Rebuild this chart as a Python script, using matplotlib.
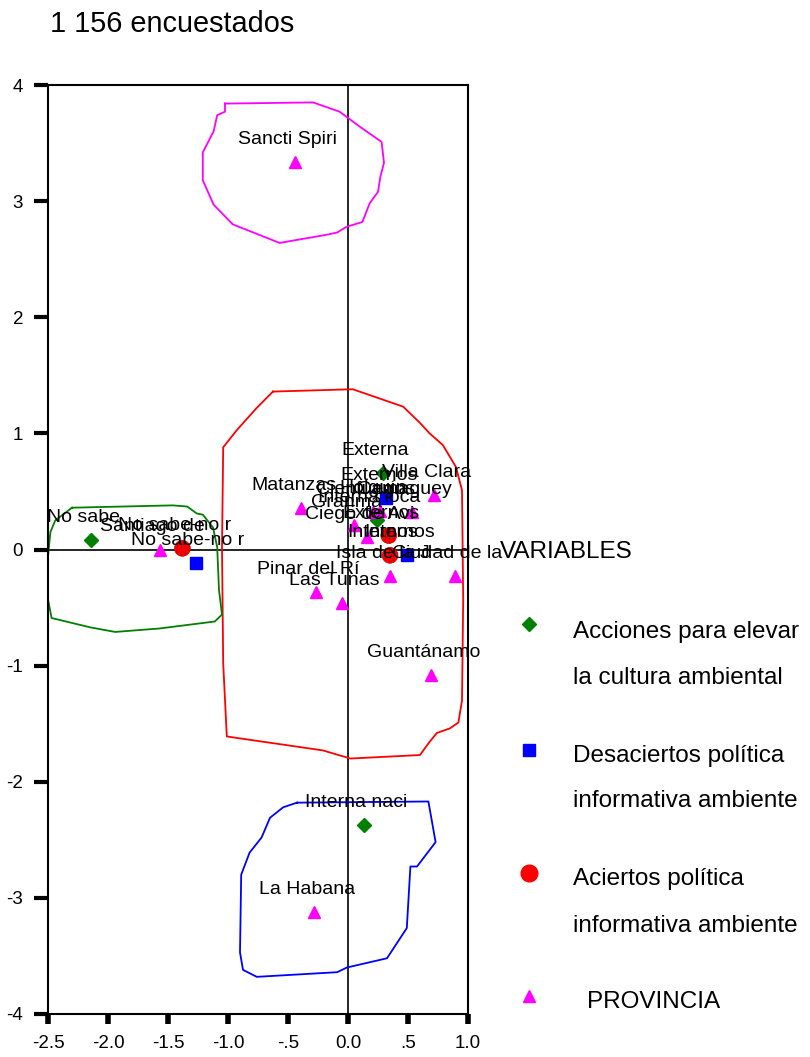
import matplotlib
matplotlib.use("Agg")
import matplotlib.pyplot as plt

plt.rcParams['font.family'] = ['Liberation Sans', 'DejaVu Sans']
plt.rcParams['axes.unicode_minus'] = False

# category points: (label, x, y)
acciones_labels = ['Externa', 'Interna loca', 'Interna naci', 'No sabe']
acciones_x = [0.29, 0.24, 0.13, -2.14]
acciones_y = [0.66, 0.25, -2.37, 0.08]

desaciertos_labels = ['Externos', 'Internos', 'No sabe-no r']
desaciertos_x = [0.32, 0.49, -1.27]
desaciertos_y = [0.44, -0.05, -0.12]

aciertos_labels = ['Externos', 'Internos', 'No sabe-no r']
aciertos_x = [0.34, 0.35, -1.38]
aciertos_y = [0.12, -0.05, 0.01]

provincia_labels = ['Pinar del Rí', 'La Habana', 'Ciudad de la', 'Matanzas', 'Villa Clara',
                    'Cienfuegos', 'Sancti Spiri', 'Ciego de Avi', 'Camaguey', 'Las Tunas',
                    'Holguín', 'Granma', 'Santiago de', 'Guantánamo', 'Isla de la J']
provincia_x = [-0.27, -0.28, 0.89, -0.39, 0.72, 0.21, -0.44, 0.16, 0.53, -0.05,
               0.27, 0.05, -1.57, 0.69, 0.35]
provincia_y = [-0.37, -3.12, -0.23, 0.36, 0.47, 0.32, 3.34, 0.11, 0.32, -0.46,
               0.33, 0.21, 0.00, -1.08, -0.23]

# hand drawn group outlines
outline_magenta_x = [-1.025, -0.29, -0.07, 0.10, 0.28, 0.30, 0.27, 0.25, 0.18, 0.12, -0.01,
                     -0.09, -0.18, -0.57, -0.96, -1.12, -1.21, -1.21, -1.12, -1.09, -1.025, -1.025]
outline_magenta_y = [3.84, 3.85, 3.77, 3.64, 3.51, 3.33, 3.21, 3.08, 2.98, 2.82, 2.78,
                     2.73, 2.71, 2.64, 2.80, 2.97, 3.18, 3.42, 3.60, 3.74, 3.77, 3.84]
outline_red_x = [-0.625, 0.04, 0.46, 0.60, 0.68, 0.79, 0.90, 0.95, 0.96, 0.95, 0.92, 0.85,
                 0.74, 0.67, 0.60, 0.02, -0.21, -1.01, -1.04, -1.05, -1.04, -0.925, -0.76, -0.625]
outline_red_y = [1.36, 1.38, 1.23, 1.09, 1.00, 0.90, 0.71, 0.51, -0.43, -1.30, -1.49, -1.54,
                 -1.58, -1.67, -1.77, -1.80, -1.73, -1.61, -0.98, 0.02, 0.88, 1.03, 1.22, 1.36]
outline_green_x = [-2.30, -1.46, -1.34, -1.26, -1.21, -1.125, -1.09, -1.075, -1.05, -1.11,
                   -1.57, -1.94, -2.15, -2.47, -2.50, -2.50, -2.48, -2.44, -2.30]
outline_green_y = [0.36, 0.38, 0.37, 0.31, 0.30, 0.19, 0.02, -0.35, -0.56, -0.62,
                   -0.68, -0.71, -0.67, -0.59, -0.43, -0.06, 0.15, 0.25, 0.36]
outline_blue_x = [-0.425, 0.67, 0.73, 0.575, 0.52, 0.49, 0.325, -0.01, -0.09, -0.76,
                  -0.875, -0.90, -0.89, -0.82, -0.72, -0.65, -0.54, -0.425]
outline_blue_y = [-2.18, -2.17, -2.52, -2.73, -2.73, -3.26, -3.52, -3.60, -3.64, -3.68,
                  -3.62, -3.47, -2.80, -2.61, -2.48, -2.31, -2.22, -2.18]

x_ticks = [-2.5, -2.0, -1.5, -1.0, -0.5, 0.0, 0.5, 1.0]
x_ticklabels = ['-2.5', '-2.0', '-1.5', '-1.0', '-.5', '0.0', '.5', '1.0']
y_ticks = [-4, -3, -2, -1, 0, 1, 2, 3, 4]

GREEN, BLUE, RED, MAGENTA = '#008000', '#0000ff', '#ff0000', '#ff00ff'

fig = plt.figure(figsize=(8.1, 10.57), dpi=100)
ax = fig.add_axes([48 / 810, 1 - 1014 / 1057, 420 / 810, 929 / 1057])

ax.axhline(0, color='black', lw=1.2, zorder=1)
ax.axvline(0, color='black', lw=1.2, zorder=1)

ax.plot(outline_magenta_x, outline_magenta_y, color=MAGENTA, lw=1.3, zorder=2)
ax.plot(outline_red_x, outline_red_y, color=RED, lw=1.3, zorder=2)
ax.plot(outline_green_x, outline_green_y, color=GREEN, lw=1.3, zorder=2)
ax.plot(outline_blue_x, outline_blue_y, color=BLUE, lw=1.3, zorder=2)

ax.plot(acciones_x, acciones_y, 'D', color=GREEN, ms=7.6, zorder=3)
ax.plot(desaciertos_x, desaciertos_y, 's', color=BLUE, ms=8.6, zorder=3)
ax.scatter(aciertos_x, aciertos_y, s=130, marker='o', facecolor=RED,
           edgecolor='#d00000', hatch='||||', lw=0.5, zorder=3)
ax.plot(provincia_x, provincia_y, '^', color=MAGENTA, ms=8, zorder=3)


def label_points(labels, xs, ys):
    for lab, x, y in zip(labels, xs, ys):
        ax.annotate(lab, (x, y), xytext=(-5.4, 13), textcoords='offset points',
                    ha='center', va='baseline', fontsize=14, zorder=5)


label_points(acciones_labels, acciones_x, acciones_y)
label_points(desaciertos_labels, desaciertos_x, desaciertos_y)
label_points(aciertos_labels, aciertos_x, aciertos_y)
label_points(provincia_labels, provincia_x, provincia_y)

ax.set_xlim(-2.5, 1.0)
ax.set_ylim(-4, 4)
ax.set_xticks(x_ticks)
ax.set_xticklabels(x_ticklabels)
ax.set_yticks(y_ticks)
for s in ax.spines.values():
    s.set_linewidth(1.5)
ax.tick_params(axis='x', direction='out', length=7, width=4, labelsize=13.5, pad=8)
ax.tick_params(axis='y', direction='out', length=10, width=3, labelsize=13.5, pad=8)

# title and legend, placed in figure pixels
fig.text(50 / 810, 1 - 32 / 1057, '1 156 encuestados', fontsize=20.8, va='baseline')

lax = fig.add_axes([0, 0, 1, 1], facecolor='none')
lax.set_xlim(0, 810)
lax.set_ylim(1057, 0)
lax.axis('off')

lax.text(500, 558, 'VARIABLES', fontsize=17.5, va='baseline')
legend_entries = [
    ('D', GREEN, 7.6, 624, ['Acciones para elevar', 'la cultura ambiental'], [638, 684], 573),
    ('s', BLUE, 8.6, 750, ['Desaciertos política', 'informativa ambiente'], [762, 807], 573),
    ('o', RED, 12, 873, ['Aciertos política', 'informativa ambiente'], [885, 932], 573),
    ('^', MAGENTA, 8, 996, ['PROVINCIA'], [1008], 587),
]
for marker, color, ms, my, lines, baselines, tx in legend_entries:
    lax.plot([529], [my], marker, color=color, ms=ms)
    for line, b in zip(lines, baselines):
        lax.text(tx, b, line, fontsize=17.5, va='baseline')

fig.savefig('out.png', dpi=100)
